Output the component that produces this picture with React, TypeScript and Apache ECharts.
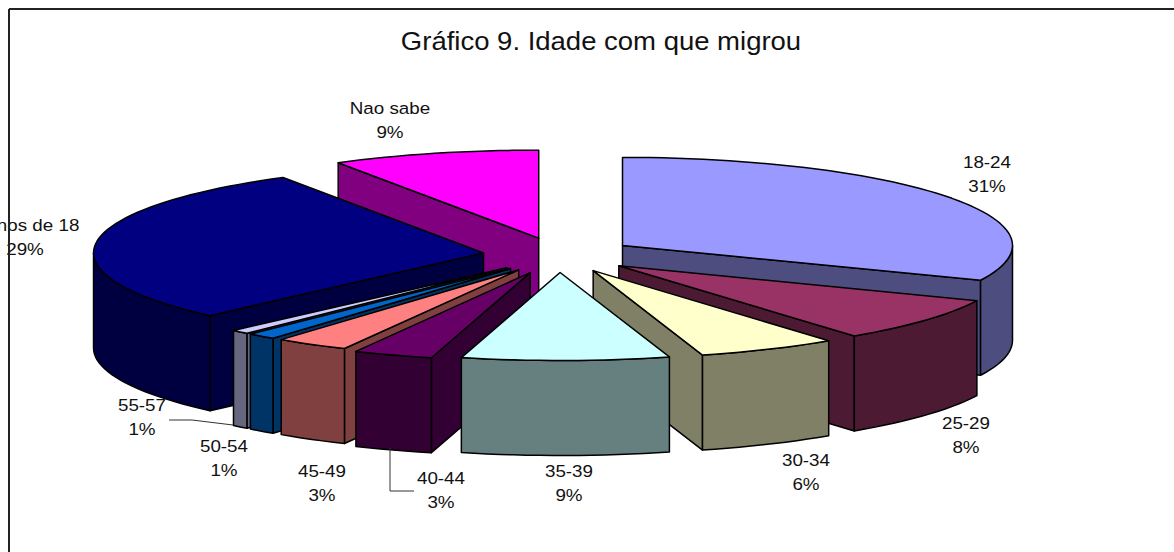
import React, { useEffect, useRef } from "react";
import * as echarts from "echarts";

const categories = ["18-24", "25-29", "30-34", "35-39", "40-44", "45-49", "50-54", "55-57", "Menos de 18", "Nao sabe"];
const shares = [31.5, 8.2, 5.8, 8.6, 3.3, 3.05, 1.2, 0.75, 29.05, 8.6];
const percentLabels = ["31%", "8%", "6%", "9%", "3%", "3%", "1%", "1%", "29%", "9%"];
const topColors = ["#9999FF", "#993366", "#FFFFCC", "#CCFFFF", "#660066", "#FF8080", "#0066CC", "#CCCCFF", "#000080", "#FF00FF"];
const wallColors = ["#4D4D80", "#4D1A33", "#808066", "#668080", "#330033", "#804040", "#003366", "#666680", "#000040", "#800080"];
const drawOrder = [9, 0, 1, 8, 7, 6, 5, 4, 2, 3];
const labelCentres: [number, number][] = [[987, 174], [966, 435], [806, 472], [569, 483], [441, 490], [322, 483], [224, 458], [142, 417], [25, 237], [390, 120]];
const explodeAdjust = [0, 0, 0, 0, 6, 0, 0, 0, 0, 0];

const CX = 559, CY = 255, RX = 390, RY = 88, EXPLODE = 76, SQUASH = 0.23, DEPTH = 95;
const TITLE_STRETCH = 1.1;
const LABEL_STRETCH = 1.14;
const total = shares.reduce((a, b) => a + b, 0);

function geometry(i: number) {
  let start = 0;
  for (let k = 0; k < i; k++) start += (shares[k] / total) * 2 * Math.PI;
  const end = start + (shares[i] / total) * 2 * Math.PI;
  const mid = (start + end) / 2;
  const e = EXPLODE + explodeAdjust[i];
  const apex: [number, number] = [CX + e * Math.sin(mid), CY - e * SQUASH * Math.cos(mid)];
  const at = (t: number): [number, number] => [apex[0] + RX * Math.sin(t), apex[1] - RY * Math.cos(t)];
  return { start, end, mid, apex, at };
}

function renderSlice(_p: any, api: any) {
  const i = api.value(0) as number;
  const { start, end, mid, apex, at } = geometry(i);
  const lineStyle = { stroke: "#000", lineWidth: 1.5, lineJoin: "round" };
  const children: any[] = [];
  const down = (p: [number, number]): [number, number] => [p[0], p[1] + DEPTH];
  const addWall = (pts: [number, number][]) =>
    children.push({ type: "polygon", shape: { points: pts }, style: { fill: wallColors[i], ...lineStyle } });

  const m = at(mid);
  for (const t of [start, end]) {
    const p = at(t);
    const dx = p[0] - apex[0];
    const dy = p[1] - apex[1];
    if (Math.abs(dx) < 1) continue;
    const lineY = (dy * (m[0] - apex[0])) / dx;
    if (m[1] - apex[1] < lineY) addWall([apex, p, down(p), down(apex)]);
  }
  const steps = Math.max(2, Math.ceil(((end - start) * 180) / Math.PI / 2));
  const arc: [number, number][] = [];
  for (let s = 0; s <= steps; s++) arc.push(at(start + ((end - start) * s) / steps));
  const a0 = Math.max(start, Math.PI / 2);
  const a1 = Math.min(end, (3 * Math.PI) / 2);
  if (a1 > a0) {
    const rim: [number, number][] = [];
    const n = Math.max(2, Math.ceil(((a1 - a0) * 180) / Math.PI / 2));
    for (let s = 0; s <= n; s++) rim.push(at(a0 + ((a1 - a0) * s) / n));
    addWall([...rim, ...rim.slice().reverse().map(down)]);
  }
  children.push({ type: "polygon", shape: { points: [apex, ...arc] }, style: { fill: topColors[i], ...lineStyle } });
  return { type: "group", children };
}

export default function App() {
  const ref = useRef<HTMLDivElement>(null);
  useEffect(() => {
    document.body.style.margin = "0";
    const chart = echarts.init(ref.current!, undefined, { renderer: "svg" });
    const font = "Liberation Sans, Arial, sans-serif";
    const labelTexts = categories.map((c, i) => ({
      type: "text",
      x: labelCentres[i][0],
      y: labelCentres[i][1],
      scaleX: LABEL_STRETCH,
      z: 5,
      style: {
        text: `${c}\n${percentLabels[i]}`,
        font: `16.5px ${font}`,
        lineHeight: 24,
        fill: "#111",
        textAlign: "center",
        textVerticalAlign: "middle",
      },
    }));
    chart.setOption({
      animation: false,
      backgroundColor: "#fff",
      series: [
        {
          type: "custom",
          coordinateSystem: "none",
          renderItem: renderSlice,
          data: drawOrder.map((i) => [i, shares[i]]),
          silent: true,
        },
      ],
      graphic: [
        { type: "line", z: 6, shape: { x1: 9, y1: 9, x2: 1174, y2: 9 }, style: { stroke: "#222", lineWidth: 2 } },
        { type: "line", z: 6, shape: { x1: 9, y1: 9, x2: 9, y2: 552 }, style: { stroke: "#222", lineWidth: 2 } },
        {
          type: "text",
          x: 601,
          y: 41,
          z: 5,
          scaleX: TITLE_STRETCH,
          style: {
            text: "Gráfico 9. Idade com que migrou",
            font: `25px ${font}`,
            fill: "#111",
            textAlign: "center",
            textVerticalAlign: "middle",
          },
        },
        ...labelTexts,
        { type: "polyline", z: 4, shape: { points: [[169, 420], [192, 420], [233, 425]] }, style: { stroke: "#333", lineWidth: 1, fill: "none" } },
        { type: "polyline", z: 4, shape: { points: [[390, 448], [390, 491], [414, 491]] }, style: { stroke: "#333", lineWidth: 1, fill: "none" } },
      ],
    });
    return () => chart.dispose();
  }, []);
  return <div ref={ref} style={{ width: 1174, height: 552 }} />;
}
